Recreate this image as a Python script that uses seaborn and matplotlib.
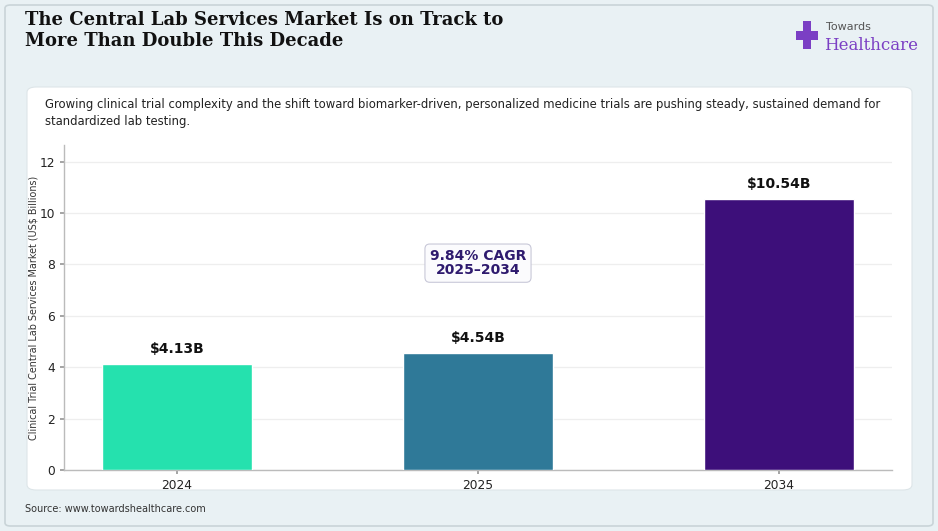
import matplotlib
matplotlib.use("Agg")
import matplotlib.pyplot as plt
from matplotlib.patches import FancyBboxPatch, Rectangle
import seaborn as sns
import pandas as pd

years = ["2024", "2025", "2034"]
market = [4.13, 4.54, 10.54]
labels = ["$4.13B", "$4.54B", "$10.54B"]
colors = ["#25e1ae", "#2f7998", "#3d0f7a"]

title = "The Central Lab Services Market Is on Track to\nMore Than Double This Decade"
subtitle = ("Growing clinical trial complexity and the shift toward biomarker-driven, personalized medicine trials are pushing steady, sustained demand for\n"
            "standardized lab testing.")
ylabel = "Clinical Trial Central Lab Services Market (US$ Billions)"
cagr_text = "9.84% CAGR\n2025\u20132034"
source = "Source: www.towardshealthcare.com"

df = pd.DataFrame({"year": years, "value": market})

sns.set_theme(style="white")
plt.rcParams['font.family'] = ['DejaVu Sans']

W, H = 938, 531
fig = plt.figure(figsize=(W / 100, H / 100), dpi=100)
fig.patch.set_facecolor("#e9f1f4")

# outer frame and white card
fig.patches.append(FancyBboxPatch((5 / W, 5 / H), 928 / W, 521 / H,
                                  boxstyle="round,pad=0,rounding_size=0.006",
                                  transform=fig.transFigure, facecolor="#e9f1f4",
                                  edgecolor="#c9d4d8", linewidth=1.2, zorder=-2))
fig.patches.append(FancyBboxPatch((27 / W, (H - 490) / H), 885 / W, 403 / H,
                                  boxstyle="round,pad=0,rounding_size=0.01",
                                  transform=fig.transFigure, facecolor="white",
                                  edgecolor="#dde5e8", linewidth=0.8, zorder=-1))

fig.text(25 / W, 1 - 11 / H, title, ha="left", va="top", fontsize=13,
         fontweight="bold", family="DejaVu Serif", color="#111111", linespacing=1.2)
fig.text(45 / W, 1 - 98 / H, subtitle, ha="left", va="top", fontsize=8.35,
         color="#222222", linespacing=1.4)
fig.text(25 / W, 1 - 509 / H, source, ha="left", va="center", fontsize=7.0, color="#333333")

# logo
fig.patches.append(Rectangle((803 / W, 1 - 49 / H), 8 / W, 28 / H,
                             transform=fig.transFigure, facecolor="#7b3fc4", edgecolor="none"))
fig.patches.append(Rectangle((796 / W, 1 - 40 / H), 22 / W, 9 / H,
                             transform=fig.transFigure, facecolor="#7b3fc4", edgecolor="none"))
fig.text(826 / W, 1 - 27 / H, "Towards", ha="left", va="center", fontsize=8, color="#555555")
fig.text(824 / W, 1 - 45 / H, "Healthcare", ha="left", va="center", fontsize=12,
         family="DejaVu Serif", color="#7b3fc4")

ax = fig.add_axes([64 / W, (H - 470) / H, (892 - 64) / W, (470 - 145) / H])
ax.set_zorder(2)
ax.set_facecolor("white")
sns.barplot(data=df, x="year", y="value", hue="year", palette=colors, legend=False,
            width=0.5, saturation=1, ax=ax, zorder=3)

ax.set_xlim(-0.375, 2.375)
ax.set_ylim(0, max(market) * 1.2)
ax.set_yticks([0, 2, 4, 6, 8, 10, 12])
ax.yaxis.grid(True, color="#eeeeee", linewidth=0.9, zorder=0)
ax.set_axisbelow(True)
for s in ["top", "right"]:
    ax.spines[s].set_visible(False)
for s in ["left", "bottom"]:
    ax.spines[s].set_color("#bbbbbb")
    ax.spines[s].set_linewidth(1)
ax.tick_params(axis="both", which="both", length=3, color="#999999", labelsize=8.8,
               labelcolor="#222222", left=True, bottom=True)
ax.set_xlabel("")
ax.set_ylabel(ylabel, fontsize=6.9, color="#333333", labelpad=1)

for i, (v, t) in enumerate(zip(market, labels)):
    ax.annotate(t, (i, v), xytext=(0, 6), textcoords="offset points", ha="center",
                va="bottom", fontsize=10, fontweight="bold", color="#111111")

ax.text(1, 8.05, cagr_text, ha="center", va="center", fontsize=10, fontweight="bold",
        color="#2e1a6e", linespacing=1.05,
        bbox=dict(boxstyle="round,pad=0.35", facecolor="#fbfbfd", edgecolor="#c8c8d8",
                  linewidth=0.8))

fig.savefig("out.png", dpi=100, facecolor=fig.get_facecolor())
